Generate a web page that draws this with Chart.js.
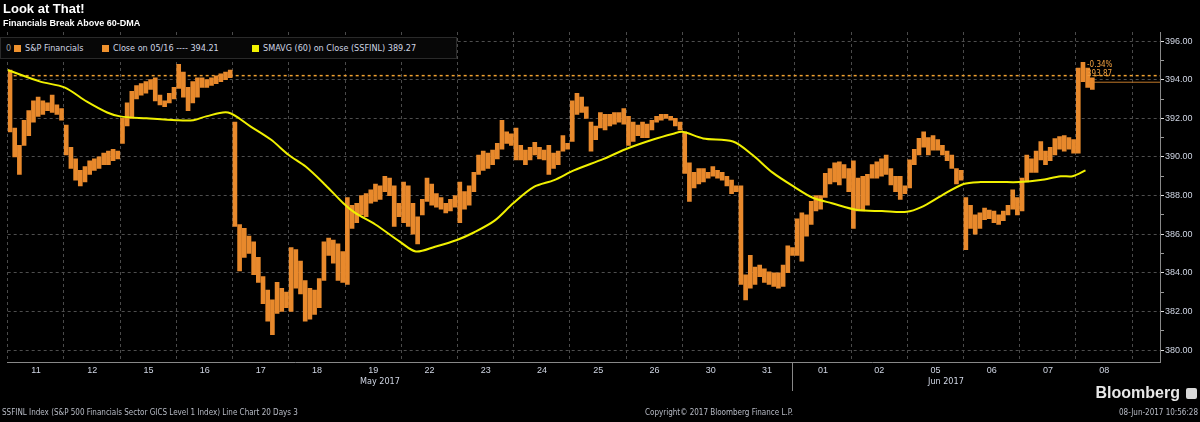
<!DOCTYPE html>
<html>
<head>
<meta charset="utf-8">
<script src="https://cdn.jsdelivr.net/npm/chart.js@4.4.0/dist/chart.umd.min.js"></script>
<style>
  body { margin: 0; background: #000; }
  #wrap { position: relative; width: 1200px; height: 422px; overflow: hidden; background: #000;
          font-family: "Liberation Sans Narrow", "DejaVu Sans Condensed", "Liberation Sans", sans-serif; color: #d0d6e4; }
  #c { position: absolute; left: 0; top: 0; }
  .t { position: absolute; white-space: nowrap; }
  #title { left: 3px; top: 1px; font: bold 13px "Liberation Sans", sans-serif; color: #fff; }
  #sub { left: 3px; top: 18px; font: bold 9px "Liberation Sans", sans-serif; color: #fff; }
  #legend { position: absolute; left: 0; top: 37px; width: 455px; height: 20px; background: #070707;
            border: 1px solid #2a2a2a; font-size: 9px; line-height: 20px; }
  #legend span { position: absolute; top: 0; }
  .sq { width: 7px; height: 7px; top: 7px !important; }
  .small { font-size: 8px; color: #b8bcc6; }
</style>
</head>
<body>
<div id="wrap">
  <canvas id="c" width="1200" height="422"></canvas>
  <div class="t" id="title">Look at That!</div>
  <div class="t" id="sub">Financials Break Above 60-DMA</div>
  <div id="legend">
    <span style="left:5px;color:#999">0</span>
    <span class="sq" style="left:13px;background:#f0922e"></span>
    <span style="left:24px">S&amp;P Financials</span>
    <span class="sq" style="left:101px;background:#f0922e"></span>
    <span style="left:112px">Close on 05/16 ---- 394.21</span>
    <span class="sq" style="left:251px;background:#f2f200"></span>
    <span style="left:262px">SMAVG (60) on Close (SSFINL) 389.27</span>
  </div>
  <div class="t" style="left:1087px;top:60px;font-size:8px;color:#f0a040">-0.34%</div>
  <div class="t" style="left:1087px;top:69px;font-size:8px;color:#f0a040">393.87</div>
  <div class="t" style="left:360px;top:376px;font-size:9px">May 2017</div>
  <div class="t" style="left:928px;top:376px;font-size:9px">Jun 2017</div>
  <div style="position:absolute;left:792px;top:362px;width:1px;height:29px;background:#888"></div>
  <div class="t small" style="left:2px;top:408px">SSFINL Index (S&amp;P 500 Financials Sector GICS Level 1 Index) Line Chart 20 Days 3</div>
  <div class="t small" style="left:645px;top:408px">Copyright© 2017 Bloomberg Finance L.P.</div>
  <div class="t small" style="right:2px;top:408px">08-Jun-2017 10:56:28</div>
  <div class="t" style="right:20px;top:384px;font:bold 16px 'Liberation Sans',sans-serif;color:#e8e8e8">Bloomberg</div>
  <div style="position:absolute;right:3px;top:388px;width:11px;height:11px;background:#d8d8d8;border-radius:2px"></div>
</div>
<script>
// days on the x axis
const dayLabels = ['11','12','15','16','17','18','19','22','23','24','25','26','30','31','01','02','05','06','07','08'];

// intraday bars [low, high] per day
const day11 = [[391.3,394.5],[390.0,391.5],[389.1,390.6],[390.6,391.9],[391.1,392.4],[391.8,392.9],[392.1,393.1],[392.2,392.9],[392.4,392.8],[392.3,393.2],[392.2,392.7],[391.9,392.5]];
const day12 = [[390.1,391.65],[389.4,390.5],[388.8,389.9],[388.5,389.3],[388.7,389.5],[389.1,389.8],[389.3,389.9],[389.4,390.0],[389.6,390.2],[389.6,390.3],[389.8,390.4],[389.9,390.3]];
const day15 = [[390.7,392.0],[391.6,392.8],[392.0,393.4],[393.0,393.7],[393.2,393.8],[393.3,393.9],[393.5,394.0],[392.9,394.1],[392.7,393.2],[392.6,392.9],[392.8,393.3],[393.0,393.6]];
const day16 = [[393.55,394.8],[393.1,394.4],[392.4,393.6],[392.8,393.9],[393.1,394.1],[393.6,394.1],[393.6,394.0],[393.7,394.1],[393.8,394.2],[393.9,394.3],[394.0,394.4],[394.1,394.5]];
const day17 = [[386.4,391.8],[384.1,386.5],[384.8,386.3],[385.0,385.9],[383.9,385.6],[383.5,384.8],[382.4,383.8],[381.5,383.1],[380.8,382.6],[381.9,383.5],[382.0,383.2],[382.2,383.0]];
const day18 = [[382.0,385.3],[383.2,385.2],[382.9,384.6],[381.5,383.6],[381.6,383.2],[381.85,383.1],[382.2,383.7],[383.6,385.6],[384.9,385.8],[384.5,385.7],[383.6,385.5],[383.5,385.1]];
const day19 = [[383.4,387.9],[386.3,387.5],[386.6,387.6],[387.0,388.0],[386.9,388.1],[387.6,388.3],[387.7,388.6],[387.8,388.5],[388.2,389.0],[388.0,388.9],[386.4,388.5],[386.9,387.6]];
const day22 = [[386.6,388.7],[386.4,388.5],[386.0,387.6],[385.5,386.9],[387.0,387.8],[387.7,388.9],[387.5,388.6],[387.4,388.1],[387.3,387.9],[387.1,387.6],[387.2,387.8],[387.4,388.0]];
const day23 = [[386.6,388.7],[387.3,388.2],[387.5,388.5],[388.2,389.2],[389.1,390.1],[389.3,390.3],[389.4,390.2],[389.6,390.35],[389.9,390.7],[390.4,391.9],[390.7,391.3],[390.6,391.2]];
const day24 = [[389.85,391.5],[389.85,390.6],[389.6,390.35],[389.85,390.5],[390.1,390.75],[389.9,390.5],[389.85,390.35],[389.1,390.6],[389.4,390.2],[389.6,390.3],[390.3,391.1],[390.4,390.7]];
const day25 = [[390.8,392.9],[392.2,393.3],[392.3,393.1],[392.0,392.6],[390.3,391.8],[390.9,391.6],[391.5,392.3],[391.4,392.2],[391.6,392.2],[391.7,392.3],[391.8,392.3],[391.7,392.5]];
const day26 = [[390.6,392.1],[390.8,391.8],[391.1,391.65],[391.0,391.8],[391.0,391.7],[391.4,391.9],[391.8,392.1],[391.9,392.2],[392.0,392.2],[391.9,392.1],[391.6,392.0],[391.4,391.8]];
const day30 = [[389.15,391.3],[387.7,389.7],[388.4,389.2],[388.6,389.4],[388.7,389.4],[388.9,389.2],[389.0,389.5],[388.9,389.3],[388.8,389.2],[388.5,389.0],[388.1,388.8],[388.2,388.5]];
const day31 = [[383.4,388.5],[382.6,383.9],[383.2,384.9],[383.4,384.3],[383.8,384.4],[383.5,384.2],[383.4,384.05],[383.3,384.0],[383.2,384.0],[383.3,384.4],[384.0,385.4],[384.9,385.3]];
const day01 = [[384.9,386.8],[384.6,387.1],[385.9,387.0],[386.5,387.7],[387.2,388.0],[387.3,388.0],[387.9,389.15],[388.6,389.4],[388.7,389.7],[388.55,389.75],[388.9,389.6],[388.2,389.4]];
const day02 = [[386.3,389.8],[387.2,388.9],[387.2,389.0],[387.5,389.1],[388.9,389.6],[388.9,389.75],[389.0,389.9],[389.1,390.1],[388.55,389.4],[388.2,389.0],[387.8,389.0],[388.1,388.5]];
const day05 = [[388.4,389.85],[389.6,390.4],[390.1,390.96],[390.5,391.3],[390.1,391.0],[390.35,391.1],[390.35,390.9],[390.1,390.6],[389.8,390.3],[389.4,390.1],[388.6,389.4],[388.8,389.3]];
const day06 = [[385.2,387.9],[386.3,387.5],[386.0,387.0],[386.3,387.1],[386.75,387.35],[386.8,387.25],[386.6,387.2],[386.5,387.0],[386.7,387.2],[387.0,387.5],[387.3,388.3],[387.0,387.9]];
const day07 = [[387.2,388.9],[388.7,390.1],[389.2,389.9],[389.2,390.3],[389.85,390.8],[389.6,390.3],[389.8,390.5],[390.1,390.95],[390.4,391.05],[390.3,391.1],[390.4,391.0],[390.2,390.9]];
const day08 = [[390.2,394.6],[393.9,394.9],[393.6,394.6],[393.5,394.1]];
const allDays = [day11,day12,day15,day16,day17,day18,day19,day22,day23,day24,day25,day26,day30,day31,day01,day02,day05,day06,day07,day08];
const barsPerDay = 12;

// 60-period simple moving average, x in day units
const smaX = [0,0.58,1.01,1.41,1.77,2.0,2.47,3.0,3.3,3.53,3.92,4.33,4.68,5.0,5.3,5.65,5.97,6.18,6.54,6.98,7.26,7.6,7.99,8.3,8.66,8.99,9.36,9.72,10.07,10.6,10.99,11.48,11.84,12.0,12.37,12.9,13.25,13.6,13.99,14.31,14.66,15.11,15.55,15.99,16.25,16.61,17.0,17.31,17.67,17.99,18.37,18.73,18.94,19.17];
const smaY = [394.5,393.9,393.6,392.86,392.3,392.1,392.0,391.9,391.9,392.1,392.3,391.56,390.9,390.1,389.5,388.55,387.6,387.1,386.5,385.6,385.1,385.35,385.7,386.1,386.7,387.6,388.45,388.8,389.3,389.9,390.4,390.9,391.2,391.3,390.96,390.8,390.1,389.2,388.45,387.9,387.6,387.25,387.2,387.16,387.4,388.0,388.6,388.7,388.7,388.7,388.8,389.0,389.0,389.3];

const refClose = 394.21;   // close on 05/16
const lastPrice = 393.87;
const xMax = 20.495;

const barData = [];
allDays.forEach((bars, d) => {
  bars.forEach((b, i) => barData.push({ x: d + (i + 0.5) / barsPerDay, y: b }));
});
const lastX = barData[barData.length - 1].x;

new Chart(document.getElementById('c'), {
  type: 'bar',
  data: {
    datasets: [
      { type: 'line', data: smaX.map((x, i) => ({ x: x, y: smaY[i] })), borderColor: '#f0f000',
        borderWidth: 2, pointRadius: 0, tension: 0.3, order: 0 },
      { type: 'line', data: [{ x: 0, y: refClose }, { x: xMax, y: refClose }], borderColor: '#f0a030',
        borderWidth: 1.5, borderDash: [3, 3], pointRadius: 0, order: 2 },
      { type: 'line', data: [{ x: lastX, y: lastPrice }, { x: xMax, y: lastPrice }], borderColor: '#c07828',
        borderWidth: 1, pointRadius: 0, order: 2 },
      { type: 'bar', data: barData, backgroundColor: '#e8892c', barThickness: 4, borderWidth: 0, order: 1 }
    ]
  },
  options: {
    responsive: false,
    animation: false,
    devicePixelRatio: 1,
    layout: { padding: { top: 32, left: 0, right: 0, bottom: 0 } },
    plugins: { legend: { display: false }, tooltip: { enabled: false } },
    scales: {
      x: {
        type: 'linear', min: 0, max: xMax, offset: false,
        afterBuildTicks: s => { s.ticks = dayLabels.map((_, i) => ({ value: i })).concat([{ value: 20 }]); },
        afterFit: s => { s.height = 60; },
        grid: { color: '#4a4a4a', offset: false, drawTicks: false },
        border: { display: true, color: '#888', dash: [3, 3] },
        ticks: { autoSkip: false, maxRotation: 0, labelOffset: 28.3, padding: 3,
                 color: '#d0d6e4', font: { size: 9, family: 'Liberation Sans' },
                 callback: (v, i) => dayLabels[i] || '' }
      },
      y: {
        position: 'right', min: 379.38, max: 396.47,
        afterFit: s => { s.width = 40; },
        grid: {
          color: c => (c.tick && c.tick.value % 2 === 0) ? '#4e4e4e' : 'rgba(0,0,0,0)',
          tickColor: c => (c.tick && c.tick.value % 2 === 0) ? '#e0e0e0' : '#9a9a9a',
          tickLength: 4
        },
        border: { display: true, color: '#888', dash: [3, 3] },
        ticks: { stepSize: 1, includeBounds: false, padding: 1, color: '#d0d6e4',
                 font: { size: 9, family: 'Liberation Sans' },
                 callback: v => v % 2 === 0 ? v.toFixed(2) : '' }
      }
    }
  }
});
</script>
</body>
</html>
